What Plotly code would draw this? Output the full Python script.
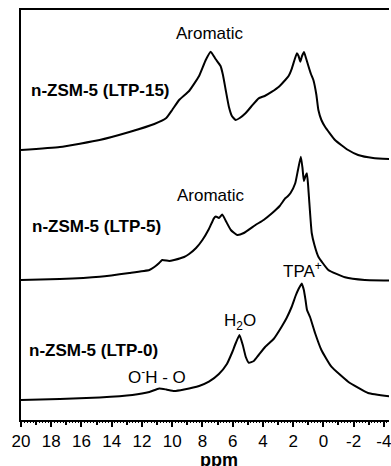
import plotly.graph_objects as go

# ---- data (ppm, intensity in arbitrary units) ----
ppm_ltp0 = [20.0, 17.43, 14.8, 12.63, 11.51, 10.86, 10.39, 9.87, 9.21, 8.22, 7.57, 6.91, 6.38, 6.05,
            5.79, 5.55, 5.33, 5.13, 4.93, 4.6, 4.28, 3.84, 3.29, 2.76, 2.43, 2.1, 1.84, 1.64, 1.43,
            1.29, 1.18, 1.08, 0.88, 0.55, 0.13, -0.53, -1.64, -2.96, -4.41]
int_ltp0 = [20, 21, 22.5, 25, 28, 31.5, 30.5, 29, 30.5, 34, 38.3, 46, 56, 67,
            77, 85, 75, 63, 57.3, 59, 65, 73.3, 81, 93.3, 102, 113, 124, 131, 136.5,
            130, 120, 110, 103, 87, 70, 53.3, 38.3, 27, 23.5]

ppm_ltp5 = [20.0, 17.43, 14.8, 12.83, 11.51, 11.18, 10.86, 10.66, 10.2, 9.87, 9.21, 8.88, 8.42,
            8.0, 7.57, 7.24, 7.11, 6.91, 6.69, 6.45, 6.12, 5.70, 5.26, 4.49, 3.95, 3.4, 2.89,
            2.52, 2.37, 2.17, 1.86, 1.68, 1.49, 1.38, 1.29, 1.18, 1.09, 1.01, 0.94, 0.77, 0.59,
            0.33, -0.33, -1.43, -2.74, -4.41]
int_ltp5 = [20, 21, 23.3, 27, 30, 33, 37, 40, 39, 40, 43, 46, 52,
            60, 71, 81.7, 83.5, 82, 85.5, 79, 70, 65, 67, 75, 80, 86.7, 94,
            101.7, 103.5, 107, 116.7, 130, 143.3, 132, 119, 124, 126.7, 115, 100, 67, 55,
            43.3, 30, 22.7, 20, 19.5]

ppm_ltp15 = [20.0, 17.43, 14.8, 12.83, 11.18, 10.39, 10.0, 9.54, 8.88, 8.22, 7.78, 7.45, 7.13,
             6.8, 6.64, 6.46, 6.25, 6.05, 5.8, 5.53, 5.15, 4.74, 4.28, 3.88, 3.4, 2.96, 2.52,
             2.3, 2.08, 1.91, 1.75, 1.64, 1.53, 1.41, 1.28, 1.15, 0.99, 0.82, 0.66, 0.46, 0.33,
             0.13, -0.11, -0.77, -1.64, -2.3, -3.29, -4.41]
int_ltp15 = [20, 23, 30, 38, 46, 52, 60, 70, 79, 94, 110, 118.3, 111,
             104, 95, 80, 63.3, 54, 50, 52, 56.7, 64, 71.7, 74, 78.3, 83, 90,
             94, 101.7, 110, 116.7, 114, 108.3, 114, 118, 112, 104, 96, 90, 75, 60,
             50, 43.3, 30, 20, 15, 12, 11]

offsets = {"LTP-0": 0, "LTP-5": 120, "LTP-15": 250}

x_ticks = [20, 18, 16, 14, 12, 10, 8, 6, 4, 2, 0, -2, -4]
x_ticklabels = ["20", "18", "16", "14", "12", "10", "8", "6", "4", "2", "0", "-2", "-4"]

FONT = "Arial, 'Liberation Sans', sans-serif"

fig = go.Figure()
for ppm, inten, key in [(ppm_ltp0, int_ltp0, "LTP-0"),
                        (ppm_ltp5, int_ltp5, "LTP-5"),
                        (ppm_ltp15, int_ltp15, "LTP-15")]:
    fig.add_trace(go.Scatter(
        x=ppm, y=[v + offsets[key] for v in inten], mode="lines",
        line=dict(color="black", width=2, shape="spline", smoothing=0.4),
        showlegend=False, hoverinfo="skip"))

# invisible trace to carry the fine tick axis
fig.add_trace(go.Scatter(x=[20], y=[0], xaxis="x2", mode="markers",
                         marker=dict(opacity=0), showlegend=False, hoverinfo="skip"))

annotations = [
    dict(text="Aromatic", x=7.5, y=387, xanchor="center", yanchor="middle", font=dict(size=17)),
    dict(text="Aromatic", x=7.4, y=225, xanchor="center", yanchor="middle", font=dict(size=17)),
    dict(text="<b>n-ZSM-5 (LTP-15)</b>", x=19.47, y=330, xanchor="left", yanchor="middle", font=dict(size=17)),
    dict(text="<b>n-ZSM-5 (LTP-5)</b>", x=19.41, y=194, xanchor="left", yanchor="middle", font=dict(size=17)),
    dict(text="<b>n-ZSM-5 (LTP-0)</b>", x=19.6, y=70, xanchor="left", yanchor="middle", font=dict(size=17)),
    dict(text="O<sup>-</sup>H - O", x=13.03, y=44, xanchor="left", yanchor="middle", font=dict(size=17)),
    dict(text="H<sub>2</sub>O", x=6.71, y=98, xanchor="left", yanchor="middle", font=dict(size=17)),
    dict(text="TPA<sup>+</sup>", x=2.83, y=150, xanchor="left", yanchor="middle", font=dict(size=17)),
]
for a in annotations:
    a.update(xref="x", yref="y", showarrow=False)
    a["font"].update(family=FONT, color="black")
annotations.append(dict(text="<b>ppm</b>", xref="x", yref="paper", x=6.9, y=-0.097,
                        xanchor="center", yanchor="middle", showarrow=False,
                        font=dict(family=FONT, size=18, color="black")))

xr = [20, 20 - 370 / 15.2]
fig.update_layout(
    width=391, height=466,
    margin=dict(l=21, r=0, t=10, b=46),
    paper_bgcolor="white", plot_bgcolor="white",
    font=dict(family=FONT, color="black"),
    annotations=annotations,
    xaxis=dict(range=xr, tickmode="array", tickvals=x_ticks, ticktext=x_ticklabels,
               ticks="outside", ticklen=5, tickwidth=2, tickcolor="black",
               ticklabeloverflow="allow",
               minor=dict(dtick=1, ticks="outside", ticklen=3, tickwidth=2, tickcolor="black"),
               showline=True, linecolor="black", linewidth=2, mirror=True,
               showgrid=False, zeroline=False,
               tickfont=dict(family=FONT, size=17, color="black")),
    xaxis2=dict(range=xr, overlaying="x", anchor="y", side="bottom",
                tick0=0, dtick=0.2, ticks="outside", ticklen=2, tickwidth=1,
                tickcolor="black", showticklabels=False, showgrid=False,
                zeroline=False, showline=False),
    yaxis=dict(range=[0, 410], showticklabels=False, ticks="", showgrid=False,
               zeroline=False, showline=True, linecolor="black", linewidth=2),
)

fig.write_html("out.html")
